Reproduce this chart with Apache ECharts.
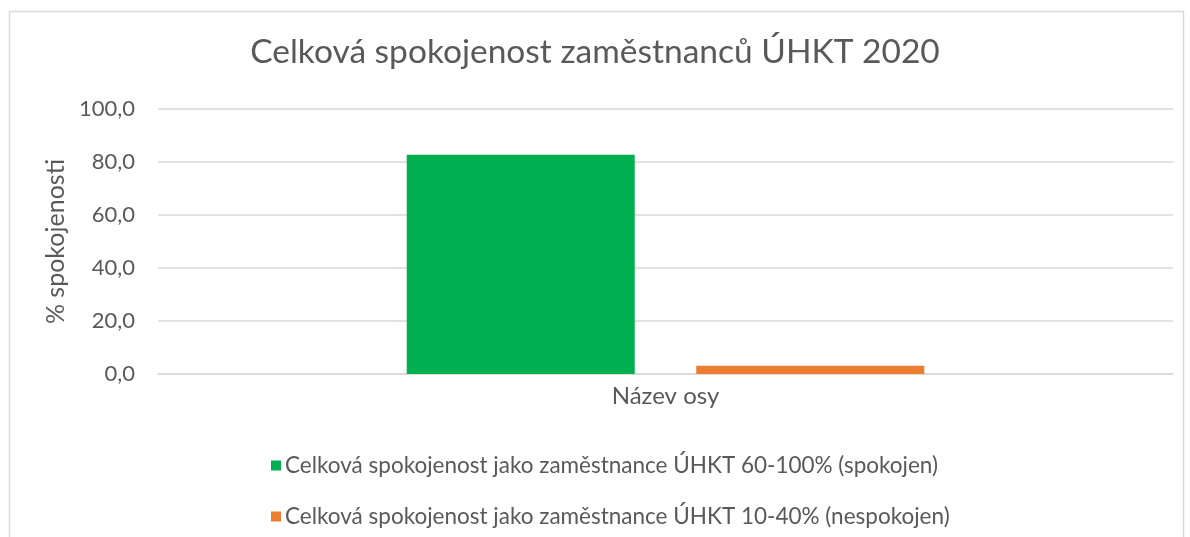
<!DOCTYPE html>
<html>
<head>
<meta charset="utf-8">
<script src="https://cdn.jsdelivr.net/npm/echarts@6/dist/echarts.min.js"></script>
<style>html,body{margin:0;padding:0;background:#fff}#c{width:1190px;height:537px}</style>
</head>
<body>
<div id="c"></div>
<script>
const titleText = 'Celková spokojenost zaměstnanců ÚHKT 2020';
const categories = ['Název osy'];
const seriesNames = [
  'Celková spokojenost jako zaměstnance ÚHKT 60-100% (spokojen)',
  'Celková spokojenost jako zaměstnance ÚHKT 10-40% (nespokojen)'
];
const satisfiedValues = [82.7];
const dissatisfiedValues = [3.1];
const yAxisName = '% spokojenosti';

const FONT = 'Lato, "Open Sans", sans-serif';
const TXT = '#595959';
const chart = echarts.init(document.getElementById('c'));
chart.setOption({
  animation: false,
  textStyle: { fontFamily: FONT, color: TXT },
  graphic: [{
    type: 'rect', left: 7, top: 9,
    shape: { width: 1174, height: 540 },
    style: { fill: 'none', stroke: '#d9d9d9', lineWidth: 1.5 }
  }],
  title: {
    text: titleText, left: 'center', top: 30,
    textStyle: { fontFamily: FONT, fontSize: 33.5, fontWeight: 'normal', color: TXT }
  },
  legend: {
    orient: 'vertical', left: 266, top: 449, itemGap: 28, itemSpacing: 4,
    icon: 'rect', itemWidth: 10, itemHeight: 10,
    textStyle: { fontFamily: FONT, fontSize: 22.5, color: TXT, padding: [0, 0, 0, -1] },
    data: seriesNames
  },
  grid: { left: 158, right: 17, top: 109, bottom: 163 },
  xAxis: {
    type: 'category', data: categories,
    axisLine: { lineStyle: { color: '#d9d9d9', width: 1.5 } },
    axisTick: { show: false },
    axisLabel: { fontFamily: FONT, fontSize: 24, color: TXT, margin: 10 }
  },
  yAxis: {
    type: 'value', min: 0, max: 100, interval: 20,
    name: yAxisName, nameLocation: 'middle', nameGap: 85, nameRotate: 90,
    nameTextStyle: { fontFamily: FONT, fontSize: 25, color: TXT },
    axisLine: { show: false }, axisTick: { show: false },
    axisLabel: { fontFamily: FONT, fontSize: 22, color: TXT, margin: 23,
      formatter: v => v.toFixed(1).replace('.', ',') },
    splitLine: { lineStyle: { color: '#d9d9d9', width: 1.5 } }
  },
  series: [
    { name: seriesNames[0], type: 'bar', data: satisfiedValues, barWidth: 228, barGap: '27%',
      itemStyle: { color: '#00b050' } },
    { name: seriesNames[1], type: 'bar', data: dissatisfiedValues, barWidth: 228,
      itemStyle: { color: '#ed7d31' } }
  ]
});
</script>
</body>
</html>
